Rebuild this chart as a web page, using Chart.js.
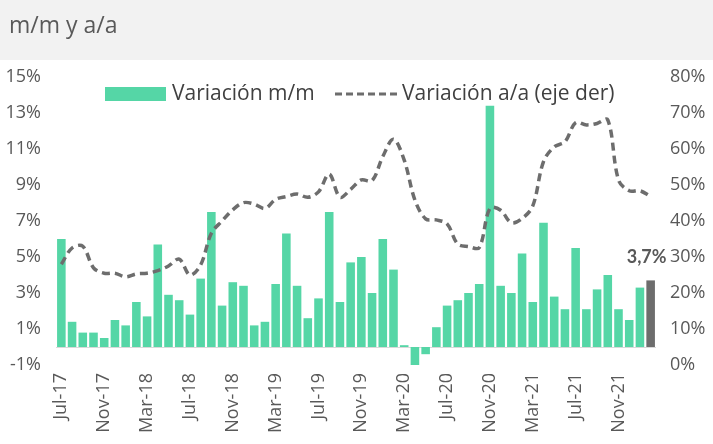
<!DOCTYPE html>
<html>
<head>
<meta charset="utf-8">
<script src="https://cdn.jsdelivr.net/npm/chart.js@4"></script>
<style>
  html, body { margin: 0; padding: 0; background: #fff; }
  #wrap { position: relative; width: 713px; height: 444px; overflow: hidden; }
  #band { position: absolute; left: 0; top: 0; width: 713px; height: 60px; background: #f2f2f2; }
  #title { position: absolute; left: 9px; top: 11px; font: 23px "Open Sans", sans-serif; line-height: 1.2; color: #595959; z-index: 2; }
  canvas { position: absolute; left: 0; top: 0; z-index: 1; }
</style>
</head>
<body>
<div id="wrap">
  <div id="band"></div>
  <canvas id="chart" width="713" height="444"></canvas>
  <div id="title">m/m y a/a</div>
</div>
<script>
// months Jul-17 .. Feb-22
const monthNames = ["Ene", "Feb", "Mar", "Abr", "May", "Jun", "Jul", "Ago", "Sep", "Oct", "Nov", "Dic"];
const months = [];
for (let k = 0; k < 56; k++) {
  const m = (6 + k) % 12;
  const y = 17 + Math.floor((6 + k) / 12);
  months.push(monthNames[m] + "-" + y);
}

// Variación m/m (%)
const varMM = [6.0, 1.4, 0.8, 0.8, 0.5, 1.5, 1.2, 2.5, 1.7, 5.7, 2.9, 2.6,
  1.8, 3.8, 7.5, 2.3, 3.6, 3.4, 1.2, 1.4, 3.5, 6.3, 3.4, 1.6,
  2.7, 7.5, 2.5, 4.7, 5.0, 3.0, 6.0, 4.3, 0.1, -1.0, -0.4, 1.1,
  2.3, 2.6, 3.0, 3.5, 13.4, 3.4, 3.0, 5.2, 2.5, 6.9, 2.8, 2.1,
  5.5, 2.1, 3.2, 4.0, 2.1, 1.5, 3.3, 3.7];

// Variación a/a (%), eje derecho
const varAA = [28, 32.5, 33, 27, 25.5, 25.5, 24.5, 25.3, 25.5, 26.2, 27.5, 29.4,
  25, 27.8, 36.6, 40, 43.1, 45.1, 44.7, 43.5, 46, 46.8, 47.5, 46.6,
  48.1, 53, 46.6, 48.8, 51.4, 51.2, 57.9, 62.7, 56.9, 45.8, 40.6, 40.3,
  39.2, 33.6, 32.9, 32.6, 43.5, 43, 39.5, 40.7, 44.2, 56.5, 60.6, 62,
  67.3, 66.7, 67.1, 68.1, 51.4, 48.4, 48.4, 46.8];

// axis ranges
const leftAxis = { min: -1, max: 15, step: 2 };
const rightAxis = { min: 0, max: 80, step: 10 };
const labelEvery = 4;

const green = "#55d6a6";
const grey = "#6d6d6d";
const textGrey = "#595959";
const font = "\"Open Sans\", sans-serif";

Chart.defaults.font.family = font;

// thin line at 0%
const zeroLine = {
  id: "zeroLine",
  beforeDatasetsDraw(chart) {
    const { ctx, chartArea, scales } = chart;
    const y = Math.round(scales.y.getPixelForValue(0)) + 0.5;
    ctx.save();
    ctx.strokeStyle = "#d9d9d9";
    ctx.lineWidth = 1;
    ctx.beginPath();
    ctx.moveTo(chartArea.left, y);
    ctx.lineTo(chartArea.right, y);
    ctx.stroke();
    ctx.restore();
  }
};

// label on the last bar
const lastLabel = {
  id: "lastLabel",
  afterDatasetsDraw(chart) {
    const meta = chart.getDatasetMeta(1);
    const last = meta.data[meta.data.length - 1];
    const val = varMM[varMM.length - 1];
    const ctx = chart.ctx;
    ctx.save();
    ctx.font = "bold 18px Lato, sans-serif";
    ctx.fillStyle = textGrey;
    ctx.textAlign = "center";
    ctx.textBaseline = "alphabetic";
    ctx.fillText(val.toFixed(1).replace(".", ",") + "%", last.x - 4, last.y - 17);
    ctx.restore();
  }
};

// legend drawn inside the plot, like the original
const innerLegend = {
  id: "innerLegend",
  afterDraw(chart) {
    const ctx = chart.ctx;
    const y = 94;
    ctx.save();
    ctx.fillStyle = green;
    ctx.fillRect(105, 87, 61, 14);
    ctx.font = "21px " + font;
    ctx.fillStyle = "#404040";
    ctx.textBaseline = "middle";
    ctx.fillText("Variación m/m", 172, y);
    ctx.strokeStyle = grey;
    ctx.lineWidth = 3;
    ctx.setLineDash([7, 4]);
    ctx.beginPath();
    ctx.moveTo(335, y);
    ctx.lineTo(399, y);
    ctx.stroke();
    ctx.setLineDash([]);
    ctx.fillText("Variación a/a (eje der)", 402, y);
    ctx.restore();
  }
};

new Chart(document.getElementById("chart"), {
  data: {
    labels: months,
    datasets: [
      {
        type: "line",
        label: "Variación a/a (eje der)",
        data: varAA,
        yAxisID: "yR",
        borderColor: grey,
        borderWidth: 3.5,
        borderDash: [8, 5],
        tension: 0.35,
        pointRadius: 0,
        fill: false
      },
      {
        type: "bar",
        label: "Variación m/m",
        data: varMM,
        yAxisID: "y",
        backgroundColor: varMM.map((v, i) => i === varMM.length - 1 ? grey : green),
        barPercentage: 0.8,
        categoryPercentage: 1.0
      }
    ]
  },
  options: {
    responsive: false,
    animation: false,
    devicePixelRatio: 1,
    layout: { padding: { top: 77, left: 0, right: 0, bottom: 0 } },
    plugins: {
      legend: { display: false },
      tooltip: { enabled: false }
    },
    scales: {
      x: {
        grid: { display: false, drawTicks: false },
        border: { display: false },
        ticks: {
          autoSkip: false,
          maxRotation: 90,
          minRotation: 90,
          padding: 8,
          color: textGrey,
          font: { size: 18 },
          callback: (v, i) => i % labelEvery === 0 ? months[i] : ""
        },
        afterFit: s => { s.height = 79; }
      },
      y: {
        position: "left",
        min: leftAxis.min,
        max: leftAxis.max,
        grid: { display: false, drawTicks: false },
        border: { display: false },
        ticks: {
          stepSize: leftAxis.step,
          padding: 15,
          color: textGrey,
          font: { size: 18 },
          callback: v => v + "%"
        },
        afterFit: s => { s.width = 56; }
      },
      yR: {
        position: "right",
        min: rightAxis.min,
        max: rightAxis.max,
        grid: { display: false, drawTicks: false },
        border: { display: false },
        ticks: {
          stepSize: rightAxis.step,
          padding: 14,
          color: textGrey,
          font: { size: 18 },
          callback: v => v + "%"
        },
        afterFit: s => { s.width = 57; }
      }
    }
  },
  plugins: [zeroLine, lastLabel, innerLegend]
});
</script>
</body>
</html>
